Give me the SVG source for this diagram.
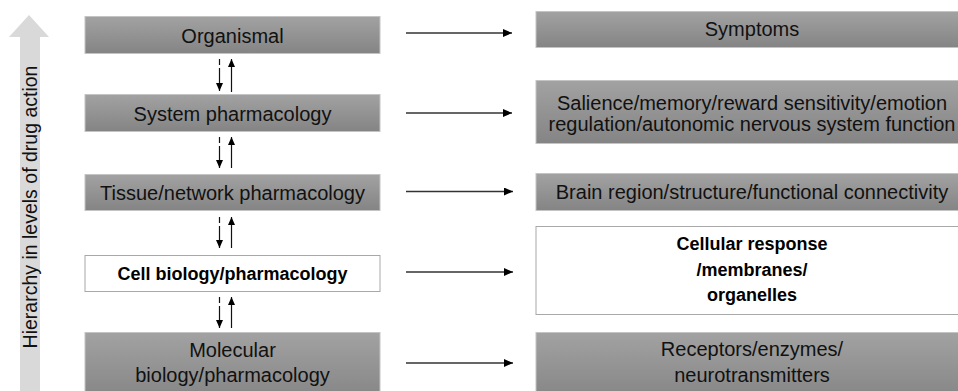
<svg xmlns="http://www.w3.org/2000/svg" width="958" height="391" viewBox="0 0 958 391">
  <style>
    .box { fill: url(#g); stroke: #c4c4c4; stroke-width: 1; }
    .wbox { fill: #ffffff; stroke: #a8a8a8; stroke-width: 1; }
    .t { font-family: "Liberation Sans", Arial, sans-serif; font-size: 20px; fill: #111; text-anchor: middle; }
    .b { font-family: "Liberation Sans", Arial, sans-serif; font-size: 18px; font-weight: bold; fill: #000; text-anchor: middle; }
    .h { stroke: #333; stroke-width: 1.5; fill: none; }
    .v { stroke: #111; stroke-width: 1.2; fill: none; }
    .d { stroke: #111; stroke-width: 1.2; fill: none; stroke-dasharray: 6 3 40; }
  </style>
  <defs>
    <linearGradient id="g" x1="0" y1="0" x2="0" y2="1">
      <stop offset="0" stop-color="#a2a2a2"/>
      <stop offset="1" stop-color="#848484"/>
    </linearGradient>
    <marker id="ah" markerUnits="userSpaceOnUse" markerWidth="10" markerHeight="9" refX="9" refY="4" orient="auto">
      <path d="M0,0 L9,4 L0,8 Z" fill="#000"/>
    </marker>
    <marker id="av" markerUnits="userSpaceOnUse" markerWidth="9" markerHeight="8" refX="8" refY="3.5" orient="auto">
      <path d="M0,0 L8,3.5 L0,7 Z" fill="#000"/>
    </marker>
  </defs>

  <g id="hierarchy-axis">
    <polygon points="29,15 49,37 40,37 40,391 20,391 20,37 9,37" fill="#d9d9d9"/>
    <text class="t" font-size="19.5" transform="translate(37,207) rotate(-90)" style="font-size:19.5px">Hierarchy in levels of drug action</text>
  </g>

  <g id="organismal">
    <rect class="box" x="85" y="16.5" width="295" height="37"/>
    <text class="t" x="232.5" y="43">Organismal</text>
  </g>
  <g id="system">
    <rect class="box" x="85" y="94.5" width="295" height="37"/>
    <text class="t" x="232.5" y="121">System pharmacology</text>
  </g>
  <g id="tissue">
    <rect class="box" x="85" y="174.5" width="295" height="36"/>
    <text class="t" x="232.5" y="200">Tissue/network pharmacology</text>
  </g>
  <g id="cell">
    <rect class="wbox" x="85" y="255.5" width="295" height="36"/>
    <text class="b" x="232.5" y="280">Cell biology/pharmacology</text>
  </g>
  <g id="molecular">
    <rect class="box" x="85" y="332.5" width="295" height="70"/>
    <text class="t" x="232.5" y="357">Molecular</text>
    <text class="t" x="232.5" y="382">biology/pharmacology</text>
  </g>

  <g id="symptoms">
    <rect class="box" x="536" y="11.5" width="440" height="36"/>
    <text class="t" x="752" y="36">Symptoms</text>
  </g>
  <g id="salience">
    <rect class="box" x="536" y="80.5" width="440" height="63"/>
    <text class="t" x="752" y="110">Salience/memory/reward sensitivity/emotion</text>
    <text class="t" x="752" y="131">regulation/autonomic nervous system function</text>
  </g>
  <g id="brain">
    <rect class="box" x="536" y="173.5" width="440" height="37"/>
    <text class="t" x="752" y="199">Brain region/structure/functional connectivity</text>
  </g>
  <g id="cellular">
    <rect class="wbox" x="536" y="226.5" width="440" height="88"/>
    <text class="b" x="752" y="250">Cellular response</text>
    <text class="b" x="752" y="276">/membranes/</text>
    <text class="b" x="752" y="301">organelles</text>
  </g>
  <g id="receptors">
    <rect class="box" x="536" y="332.5" width="440" height="70"/>
    <text class="t" x="752" y="356">Receptors/enzymes/</text>
    <text class="t" x="752" y="382">neurotransmitters</text>
  </g>

  <g id="connectors">
    <line class="h" x1="406" y1="33" x2="512" y2="33" marker-end="url(#ah)"/>
    <line class="h" x1="406" y1="113" x2="512" y2="113" marker-end="url(#ah)"/>
    <line class="h" x1="406" y1="191.5" x2="513" y2="191.5" marker-end="url(#ah)"/>
    <line class="h" x1="406" y1="272" x2="513" y2="272" marker-end="url(#ah)"/>
    <line class="h" x1="406" y1="363" x2="513" y2="363" marker-end="url(#ah)"/>

    <line class="d" x1="219.5" y1="59" x2="219.5" y2="91" marker-end="url(#av)"/>
    <line class="v" x1="231.5" y1="92" x2="231.5" y2="59" marker-end="url(#av)"/>
    <line class="d" x1="219.5" y1="137" x2="219.5" y2="168" marker-end="url(#av)"/>
    <line class="v" x1="231.5" y1="168" x2="231.5" y2="137" marker-end="url(#av)"/>
    <line class="d" x1="219.5" y1="217" x2="219.5" y2="248" marker-end="url(#av)"/>
    <line class="v" x1="231.5" y1="248" x2="231.5" y2="217" marker-end="url(#av)"/>
    <line class="d" x1="219.5" y1="297" x2="219.5" y2="328" marker-end="url(#av)"/>
    <line class="v" x1="231.5" y1="328" x2="231.5" y2="297" marker-end="url(#av)"/>
  </g>
</svg>
